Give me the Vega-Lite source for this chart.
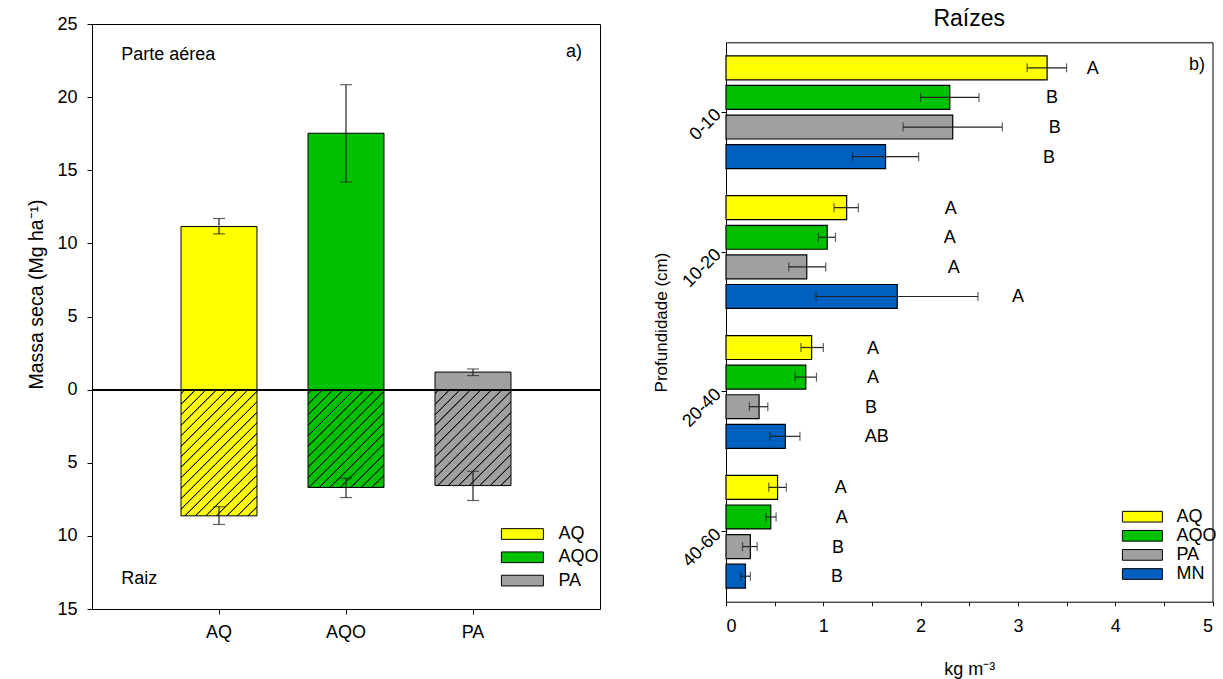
{
  "$schema": "https://vega.github.io/schema/vega-lite/v6.json",
  "padding": {"left": 26, "top": 8, "right": 0, "bottom": 0},
  "background": "white",
  "config": {
    "font": "Liberation Sans",
    "view": {"stroke": "#000", "strokeWidth": 1},
    "axis": {"grid": false, "domainColor": "#000", "tickColor": "#000", "labelColor": "#000", "titleColor": "#000", "labelFontSize": 18, "titleFontSize": 19.5, "titleFontWeight": "normal", "labelFont": "Liberation Sans", "titleFont": "Liberation Sans"},
    "legend": {"labelFontSize": 18, "labelColor": "#000", "labelFont": "Liberation Sans"},
    "text": {"font": "Liberation Sans", "color": "#000"}
  },
  "datasets": {
    "a": [
      {"trat": "AQ", "parte": "aérea", "v": 11.15, "lo": 10.65, "hi": 11.7},
      {"trat": "AQO", "parte": "aérea", "v": 17.53, "lo": 14.19, "hi": 20.85},
      {"trat": "PA", "parte": "aérea", "v": 1.2, "lo": 0.96, "hi": 1.41},
      {"trat": "AQ", "parte": "raiz", "v": -8.63, "lo": -9.22, "hi": -8.01},
      {"trat": "AQO", "parte": "raiz", "v": -6.69, "lo": -7.38, "hi": -6.06},
      {"trat": "PA", "parte": "raiz", "v": -6.56, "lo": -7.58, "hi": -5.58}
    ],
    "b": [
      {"prof": "0-10", "trat": "AQ", "v": 3.30, "lo": 3.095, "hi": 3.50, "letra": "A", "lx": 3.77},
      {"prof": "0-10", "trat": "AQO", "v": 2.30, "lo": 2.00, "hi": 2.60, "letra": "B", "lx": 3.35},
      {"prof": "0-10", "trat": "PA", "v": 2.33, "lo": 1.82, "hi": 2.84, "letra": "B", "lx": 3.38},
      {"prof": "0-10", "trat": "MN", "v": 1.64, "lo": 1.30, "hi": 1.98, "letra": "B", "lx": 3.32},
      {"prof": "10-20", "trat": "AQ", "v": 1.24, "lo": 1.11, "hi": 1.36, "letra": "A", "lx": 2.31},
      {"prof": "10-20", "trat": "AQO", "v": 1.04, "lo": 0.95, "hi": 1.125, "letra": "A", "lx": 2.30},
      {"prof": "10-20", "trat": "PA", "v": 0.83, "lo": 0.645, "hi": 1.025, "letra": "A", "lx": 2.34},
      {"prof": "10-20", "trat": "MN", "v": 1.76, "lo": 0.925, "hi": 2.59, "letra": "A", "lx": 3.00},
      {"prof": "20-40", "trat": "AQ", "v": 0.88, "lo": 0.77, "hi": 1.00, "letra": "A", "lx": 1.51},
      {"prof": "20-40", "trat": "AQO", "v": 0.82, "lo": 0.71, "hi": 0.93, "letra": "A", "lx": 1.51},
      {"prof": "20-40", "trat": "PA", "v": 0.34, "lo": 0.24, "hi": 0.43, "letra": "B", "lx": 1.49},
      {"prof": "20-40", "trat": "MN", "v": 0.61, "lo": 0.45, "hi": 0.76, "letra": "AB", "lx": 1.55},
      {"prof": "40-60", "trat": "AQ", "v": 0.53, "lo": 0.44, "hi": 0.62, "letra": "A", "lx": 1.18},
      {"prof": "40-60", "trat": "AQO", "v": 0.46, "lo": 0.41, "hi": 0.515, "letra": "A", "lx": 1.19},
      {"prof": "40-60", "trat": "PA", "v": 0.25, "lo": 0.17, "hi": 0.32, "letra": "B", "lx": 1.15},
      {"prof": "40-60", "trat": "MN", "v": 0.20, "lo": 0.15, "hi": 0.25, "letra": "B", "lx": 1.14}
    ]
  },
  "resolve": {"scale": {"fill": "independent"}, "legend": {"fill": "independent"}},
  "spacing": 50,
  "hconcat": [
    {
      "width": 508,
      "height": 585,
      "data": {"name": "a"},
      "encoding": {
        "x": {"field": "trat", "type": "nominal", "sort": ["AQ", "AQO", "PA"],
          "scale": {"paddingInner": 0.4016, "paddingOuter": 0.7008},
          "axis": {"title": null, "labelAngle": 0, "tickSize": 5, "labelPadding": 9, "domain": false}}
      },
      "layer": [
        {
          "transform": [{"filter": "datum.parte === 'aérea'"}],
          "mark": {"type": "bar", "stroke": "#000", "strokeWidth": 1},
          "encoding": {
            "y": {"field": "v", "type": "quantitative",
              "scale": {"domain": [-15, 25], "nice": false, "zero": false},
              "axis": {"values": [-15, -10, -5, 0, 5, 10, 15, 20, 25], "labelExpr": "abs(datum.value)", "title": "Massa seca (Mg ha⁻¹)", "titleY": 270, "titlePadding": 10, "tickSize": 5, "labelPadding": 10, "domain": false}},
            "fill": {"field": "trat", "type": "nominal",
              "scale": {"domain": ["AQ", "AQO", "PA"], "range": ["#FFFF00", "#00C000", "#A0A0A0"]},
              "legend": {"title": null, "orient": "none", "legendX": 421.4, "legendY": 501, "padding": 0,
                "symbolType": "M-4,-1.02H4V1.02H-4Z", "symbolSize": 110.25, "symbolStrokeColor": "#000", "symbolStrokeWidth": 1,
                "labelOffset": 27, "rowPadding": 5.3, "labelFontSize": 18}}
          }
        },
        {
          "transform": [{"filter": "datum.parte === 'raiz' && datum.trat === 'AQ'"}],
          "mark": {"type": "bar", "stroke": "#000", "strokeWidth": 1,
            "fill": {"gradient": "linear", "x1": 0, "y1": 0, "x2": 0.7345, "y2": 1.2207, "stops": [
              {"offset": 0, "color": "#FFFF00"},
              {"offset": 0.015, "color": "#FFFF00"}, {"offset": 0.0185, "color": "#111"}, {"offset": 0.0215, "color": "#111"}, {"offset": 0.025, "color": "#FFFF00"},
              {"offset": 0.065, "color": "#FFFF00"}, {"offset": 0.0685, "color": "#111"}, {"offset": 0.0715, "color": "#111"}, {"offset": 0.075, "color": "#FFFF00"},
              {"offset": 0.115, "color": "#FFFF00"}, {"offset": 0.1185, "color": "#111"}, {"offset": 0.1215, "color": "#111"}, {"offset": 0.125, "color": "#FFFF00"},
              {"offset": 0.165, "color": "#FFFF00"}, {"offset": 0.1685, "color": "#111"}, {"offset": 0.1715, "color": "#111"}, {"offset": 0.175, "color": "#FFFF00"},
              {"offset": 0.215, "color": "#FFFF00"}, {"offset": 0.2185, "color": "#111"}, {"offset": 0.2215, "color": "#111"}, {"offset": 0.225, "color": "#FFFF00"},
              {"offset": 0.265, "color": "#FFFF00"}, {"offset": 0.2685, "color": "#111"}, {"offset": 0.2715, "color": "#111"}, {"offset": 0.275, "color": "#FFFF00"},
              {"offset": 0.315, "color": "#FFFF00"}, {"offset": 0.3185, "color": "#111"}, {"offset": 0.3215, "color": "#111"}, {"offset": 0.325, "color": "#FFFF00"},
              {"offset": 0.365, "color": "#FFFF00"}, {"offset": 0.3685, "color": "#111"}, {"offset": 0.3715, "color": "#111"}, {"offset": 0.375, "color": "#FFFF00"},
              {"offset": 0.415, "color": "#FFFF00"}, {"offset": 0.4185, "color": "#111"}, {"offset": 0.4215, "color": "#111"}, {"offset": 0.425, "color": "#FFFF00"},
              {"offset": 0.465, "color": "#FFFF00"}, {"offset": 0.4685, "color": "#111"}, {"offset": 0.4715, "color": "#111"}, {"offset": 0.475, "color": "#FFFF00"},
              {"offset": 0.515, "color": "#FFFF00"}, {"offset": 0.5185, "color": "#111"}, {"offset": 0.5215, "color": "#111"}, {"offset": 0.525, "color": "#FFFF00"},
              {"offset": 0.565, "color": "#FFFF00"}, {"offset": 0.5685, "color": "#111"}, {"offset": 0.5715, "color": "#111"}, {"offset": 0.575, "color": "#FFFF00"},
              {"offset": 0.615, "color": "#FFFF00"}, {"offset": 0.6185, "color": "#111"}, {"offset": 0.6215, "color": "#111"}, {"offset": 0.625, "color": "#FFFF00"},
              {"offset": 0.665, "color": "#FFFF00"}, {"offset": 0.6685, "color": "#111"}, {"offset": 0.6715, "color": "#111"}, {"offset": 0.675, "color": "#FFFF00"},
              {"offset": 0.715, "color": "#FFFF00"}, {"offset": 0.7185, "color": "#111"}, {"offset": 0.7215, "color": "#111"}, {"offset": 0.725, "color": "#FFFF00"},
              {"offset": 0.765, "color": "#FFFF00"}, {"offset": 0.7685, "color": "#111"}, {"offset": 0.7715, "color": "#111"}, {"offset": 0.775, "color": "#FFFF00"},
              {"offset": 0.815, "color": "#FFFF00"}, {"offset": 0.8185, "color": "#111"}, {"offset": 0.8215, "color": "#111"}, {"offset": 0.825, "color": "#FFFF00"},
              {"offset": 0.865, "color": "#FFFF00"}, {"offset": 0.8685, "color": "#111"}, {"offset": 0.8715, "color": "#111"}, {"offset": 0.875, "color": "#FFFF00"},
              {"offset": 0.915, "color": "#FFFF00"}, {"offset": 0.9185, "color": "#111"}, {"offset": 0.9215, "color": "#111"}, {"offset": 0.925, "color": "#FFFF00"},
              {"offset": 0.965, "color": "#FFFF00"}, {"offset": 0.9685, "color": "#111"}, {"offset": 0.9715, "color": "#111"}, {"offset": 0.975, "color": "#FFFF00"},
              {"offset": 1, "color": "#FFFF00"}
            ]}},
          "encoding": {"y": {"field": "v", "type": "quantitative"}}
        },
        {
          "transform": [{"filter": "datum.parte === 'raiz' && datum.trat === 'AQO'"}],
          "mark": {"type": "bar", "stroke": "#000", "strokeWidth": 1,
            "fill": {"gradient": "linear", "x1": 0, "y1": 0, "x2": 1.039, "y2": 1.3384, "stops": [
              {"offset": 0, "color": "#00C000"},
              {"offset": 0.015, "color": "#00C000"}, {"offset": 0.0185, "color": "#111"}, {"offset": 0.0215, "color": "#111"}, {"offset": 0.025, "color": "#00C000"},
              {"offset": 0.065, "color": "#00C000"}, {"offset": 0.0685, "color": "#111"}, {"offset": 0.0715, "color": "#111"}, {"offset": 0.075, "color": "#00C000"},
              {"offset": 0.115, "color": "#00C000"}, {"offset": 0.1185, "color": "#111"}, {"offset": 0.1215, "color": "#111"}, {"offset": 0.125, "color": "#00C000"},
              {"offset": 0.165, "color": "#00C000"}, {"offset": 0.1685, "color": "#111"}, {"offset": 0.1715, "color": "#111"}, {"offset": 0.175, "color": "#00C000"},
              {"offset": 0.215, "color": "#00C000"}, {"offset": 0.2185, "color": "#111"}, {"offset": 0.2215, "color": "#111"}, {"offset": 0.225, "color": "#00C000"},
              {"offset": 0.265, "color": "#00C000"}, {"offset": 0.2685, "color": "#111"}, {"offset": 0.2715, "color": "#111"}, {"offset": 0.275, "color": "#00C000"},
              {"offset": 0.315, "color": "#00C000"}, {"offset": 0.3185, "color": "#111"}, {"offset": 0.3215, "color": "#111"}, {"offset": 0.325, "color": "#00C000"},
              {"offset": 0.365, "color": "#00C000"}, {"offset": 0.3685, "color": "#111"}, {"offset": 0.3715, "color": "#111"}, {"offset": 0.375, "color": "#00C000"},
              {"offset": 0.415, "color": "#00C000"}, {"offset": 0.4185, "color": "#111"}, {"offset": 0.4215, "color": "#111"}, {"offset": 0.425, "color": "#00C000"},
              {"offset": 0.465, "color": "#00C000"}, {"offset": 0.4685, "color": "#111"}, {"offset": 0.4715, "color": "#111"}, {"offset": 0.475, "color": "#00C000"},
              {"offset": 0.515, "color": "#00C000"}, {"offset": 0.5185, "color": "#111"}, {"offset": 0.5215, "color": "#111"}, {"offset": 0.525, "color": "#00C000"},
              {"offset": 0.565, "color": "#00C000"}, {"offset": 0.5685, "color": "#111"}, {"offset": 0.5715, "color": "#111"}, {"offset": 0.575, "color": "#00C000"},
              {"offset": 0.615, "color": "#00C000"}, {"offset": 0.6185, "color": "#111"}, {"offset": 0.6215, "color": "#111"}, {"offset": 0.625, "color": "#00C000"},
              {"offset": 0.665, "color": "#00C000"}, {"offset": 0.6685, "color": "#111"}, {"offset": 0.6715, "color": "#111"}, {"offset": 0.675, "color": "#00C000"},
              {"offset": 0.715, "color": "#00C000"}, {"offset": 0.7185, "color": "#111"}, {"offset": 0.7215, "color": "#111"}, {"offset": 0.725, "color": "#00C000"},
              {"offset": 0.765, "color": "#00C000"}, {"offset": 0.7685, "color": "#111"}, {"offset": 0.7715, "color": "#111"}, {"offset": 0.775, "color": "#00C000"},
              {"offset": 0.815, "color": "#00C000"}, {"offset": 0.8185, "color": "#111"}, {"offset": 0.8215, "color": "#111"}, {"offset": 0.825, "color": "#00C000"},
              {"offset": 1, "color": "#00C000"}
            ]}},
          "encoding": {"y": {"field": "v", "type": "quantitative"}}
        },
        {
          "transform": [{"filter": "datum.parte === 'raiz' && datum.trat === 'PA'"}],
          "mark": {"type": "bar", "stroke": "#000", "strokeWidth": 1,
            "fill": {"gradient": "linear", "x1": 0, "y1": 0, "x2": 1.0646, "y2": 1.3447, "stops": [
              {"offset": 0, "color": "#A0A0A0"},
              {"offset": 0.015, "color": "#A0A0A0"}, {"offset": 0.0185, "color": "#111"}, {"offset": 0.0215, "color": "#111"}, {"offset": 0.025, "color": "#A0A0A0"},
              {"offset": 0.065, "color": "#A0A0A0"}, {"offset": 0.0685, "color": "#111"}, {"offset": 0.0715, "color": "#111"}, {"offset": 0.075, "color": "#A0A0A0"},
              {"offset": 0.115, "color": "#A0A0A0"}, {"offset": 0.1185, "color": "#111"}, {"offset": 0.1215, "color": "#111"}, {"offset": 0.125, "color": "#A0A0A0"},
              {"offset": 0.165, "color": "#A0A0A0"}, {"offset": 0.1685, "color": "#111"}, {"offset": 0.1715, "color": "#111"}, {"offset": 0.175, "color": "#A0A0A0"},
              {"offset": 0.215, "color": "#A0A0A0"}, {"offset": 0.2185, "color": "#111"}, {"offset": 0.2215, "color": "#111"}, {"offset": 0.225, "color": "#A0A0A0"},
              {"offset": 0.265, "color": "#A0A0A0"}, {"offset": 0.2685, "color": "#111"}, {"offset": 0.2715, "color": "#111"}, {"offset": 0.275, "color": "#A0A0A0"},
              {"offset": 0.315, "color": "#A0A0A0"}, {"offset": 0.3185, "color": "#111"}, {"offset": 0.3215, "color": "#111"}, {"offset": 0.325, "color": "#A0A0A0"},
              {"offset": 0.365, "color": "#A0A0A0"}, {"offset": 0.3685, "color": "#111"}, {"offset": 0.3715, "color": "#111"}, {"offset": 0.375, "color": "#A0A0A0"},
              {"offset": 0.415, "color": "#A0A0A0"}, {"offset": 0.4185, "color": "#111"}, {"offset": 0.4215, "color": "#111"}, {"offset": 0.425, "color": "#A0A0A0"},
              {"offset": 0.465, "color": "#A0A0A0"}, {"offset": 0.4685, "color": "#111"}, {"offset": 0.4715, "color": "#111"}, {"offset": 0.475, "color": "#A0A0A0"},
              {"offset": 0.515, "color": "#A0A0A0"}, {"offset": 0.5185, "color": "#111"}, {"offset": 0.5215, "color": "#111"}, {"offset": 0.525, "color": "#A0A0A0"},
              {"offset": 0.565, "color": "#A0A0A0"}, {"offset": 0.5685, "color": "#111"}, {"offset": 0.5715, "color": "#111"}, {"offset": 0.575, "color": "#A0A0A0"},
              {"offset": 0.615, "color": "#A0A0A0"}, {"offset": 0.6185, "color": "#111"}, {"offset": 0.6215, "color": "#111"}, {"offset": 0.625, "color": "#A0A0A0"},
              {"offset": 0.665, "color": "#A0A0A0"}, {"offset": 0.6685, "color": "#111"}, {"offset": 0.6715, "color": "#111"}, {"offset": 0.675, "color": "#A0A0A0"},
              {"offset": 0.715, "color": "#A0A0A0"}, {"offset": 0.7185, "color": "#111"}, {"offset": 0.7215, "color": "#111"}, {"offset": 0.725, "color": "#A0A0A0"},
              {"offset": 0.765, "color": "#A0A0A0"}, {"offset": 0.7685, "color": "#111"}, {"offset": 0.7715, "color": "#111"}, {"offset": 0.775, "color": "#A0A0A0"},
              {"offset": 0.815, "color": "#A0A0A0"}, {"offset": 0.8185, "color": "#111"}, {"offset": 0.8215, "color": "#111"}, {"offset": 0.825, "color": "#A0A0A0"},
              {"offset": 1, "color": "#A0A0A0"}
            ]}},
          "encoding": {"y": {"field": "v", "type": "quantitative"}}
        },
        {
          "mark": {"type": "rule", "color": "#000", "strokeWidth": 1.5},
          "encoding": {"x": null, "y": {"datum": 0}}
        },
        {
          "mark": {"type": "rule", "color": "#222", "strokeWidth": 1.2},
          "encoding": {"y": {"field": "lo", "type": "quantitative"}, "y2": {"field": "hi"}}
        },
        {
          "mark": {"type": "tick", "color": "#222", "size": 12, "thickness": 1.2},
          "encoding": {"y": {"field": "lo", "type": "quantitative"}}
        },
        {
          "mark": {"type": "tick", "color": "#222", "size": 12, "thickness": 1.2},
          "encoding": {"y": {"field": "hi", "type": "quantitative"}}
        },
        {
          "data": {"values": [{"t": "Parte aérea"}]},
          "mark": {"type": "text", "fontSize": 18, "align": "left", "baseline": "alphabetic", "dx": -97.7},
          "encoding": {"x": {"datum": "AQ"}, "y": {"datum": 22.52}, "text": {"field": "t"}}
        },
        {
          "data": {"values": [{"t": "Raiz"}]},
          "mark": {"type": "text", "fontSize": 18, "align": "left", "baseline": "alphabetic", "dx": -97.7},
          "encoding": {"x": {"datum": "AQ"}, "y": {"datum": -13.26}, "text": {"field": "t"}}
        },
        {
          "data": {"values": [{"t": "a)"}]},
          "mark": {"type": "text", "fontSize": 18, "align": "center", "baseline": "alphabetic", "dx": 101},
          "encoding": {"x": {"datum": "PA"}, "y": {"datum": 22.77}, "text": {"field": "t"}}
        }
      ]
    },
    {
      "width": 486.5,
      "height": 577.7,
      "view": {"stroke": null},
      "title": {"text": "Raízes", "fontSize": 23, "fontWeight": "normal", "font": "Liberation Sans", "color": "#000", "anchor": "middle", "offset": -7},
      "data": {"name": "b"},
      "layer": [
        {
          "mark": {"type": "bar", "stroke": "#000", "strokeWidth": 1.2},
          "encoding": {
            "x": {"field": "v", "type": "quantitative",
              "scale": {"domain": [0, 5], "nice": false},
              "axis": {"orient": "bottom", "values": [0, 0.5, 1, 1.5, 2, 2.5, 3, 3.5, 4, 4.5, 5], "labelExpr": "datum.value % 1 === 0 ? '' + datum.value : ''", "title": "kg m⁻³", "titleFontSize": 18, "tickSize": 4, "labelPadding": 12, "titlePadding": 25, "domain": true}},
            "y": {"field": "prof", "type": "nominal", "sort": ["0-10", "10-20", "20-40", "40-60"],
              "scale": {"range": [18.3, 577.7], "paddingInner": 0, "paddingOuter": 0},
              "axis": {"orient": "left", "title": "Profundidade (cm)", "titleFontSize": 17, "labelAngle": -45, "labelAlign": "right", "labelBaseline": "middle", "tickSize": 5, "labelPadding": 3, "titlePadding": 9, "domain": true}},
            "yOffset": {"field": "trat", "type": "nominal", "sort": ["AQ", "AQO", "PA", "MN"],
              "scale": {"paddingInner": 0.19, "paddingOuter": 0.457}},
            "fill": {"field": "trat", "type": "nominal",
              "scale": {"domain": ["AQ", "AQO", "PA", "MN"], "range": ["#FFFF00", "#00C000", "#A0A0A0", "#0060C0"]},
              "legend": {"title": null, "orient": "none", "legendX": 407.4, "legendY": 483.7, "padding": 0,
                "symbolType": "M-4,-1.07H4V1.07H-4Z", "symbolSize": 100, "symbolStrokeColor": "#000", "symbolStrokeWidth": 1,
                "labelOffset": 25, "rowPadding": 1.1, "labelFontSize": 18}}
          }
        },
        {
          "mark": {"type": "rule", "color": "#222", "strokeWidth": 1.2},
          "encoding": {
            "x": {"field": "lo", "type": "quantitative", "axis": {"orient": "top", "offset": -18.3, "ticks": false, "labels": false, "title": null, "domain": true}},
            "x2": {"field": "hi"},
            "y": {"field": "prof", "type": "nominal", "sort": ["0-10", "10-20", "20-40", "40-60"], "axis": {"orient": "right", "ticks": false, "labels": false, "title": null, "domain": true}},
            "yOffset": {"field": "trat", "type": "nominal", "sort": ["AQ", "AQO", "PA", "MN"]}
          }
        },
        {
          "mark": {"type": "tick", "color": "#222", "size": 9, "thickness": 1.2},
          "encoding": {
            "x": {"field": "lo", "type": "quantitative", "axis": null},
            "y": {"field": "prof", "type": "nominal", "sort": ["0-10", "10-20", "20-40", "40-60"], "axis": null},
            "yOffset": {"field": "trat", "type": "nominal", "sort": ["AQ", "AQO", "PA", "MN"]}
          }
        },
        {
          "mark": {"type": "tick", "color": "#222", "size": 9, "thickness": 1.2},
          "encoding": {
            "x": {"field": "hi", "type": "quantitative", "axis": null},
            "y": {"field": "prof", "type": "nominal", "sort": ["0-10", "10-20", "20-40", "40-60"], "axis": null},
            "yOffset": {"field": "trat", "type": "nominal", "sort": ["AQ", "AQO", "PA", "MN"]}
          }
        },
        {
          "mark": {"type": "text", "fontSize": 18, "align": "center", "baseline": "middle", "dy": 1},
          "encoding": {
            "x": {"field": "lx", "type": "quantitative", "axis": null},
            "y": {"field": "prof", "type": "nominal", "sort": ["0-10", "10-20", "20-40", "40-60"], "axis": null},
            "yOffset": {"field": "trat", "type": "nominal", "sort": ["AQ", "AQO", "PA", "MN"]},
            "text": {"field": "letra"}
          }
        },
        {
          "data": {"values": [{"t": "b)"}]},
          "mark": {"type": "text", "fontSize": 18, "align": "center", "baseline": "middle", "dy": -3},
          "encoding": {
            "x": {"datum": 4.84, "axis": null},
            "y": {"datum": "0-10", "axis": null},
            "yOffset": {"datum": "AQ"},
            "text": {"field": "t"}
          }
        }
      ]
    }
  ]
}
